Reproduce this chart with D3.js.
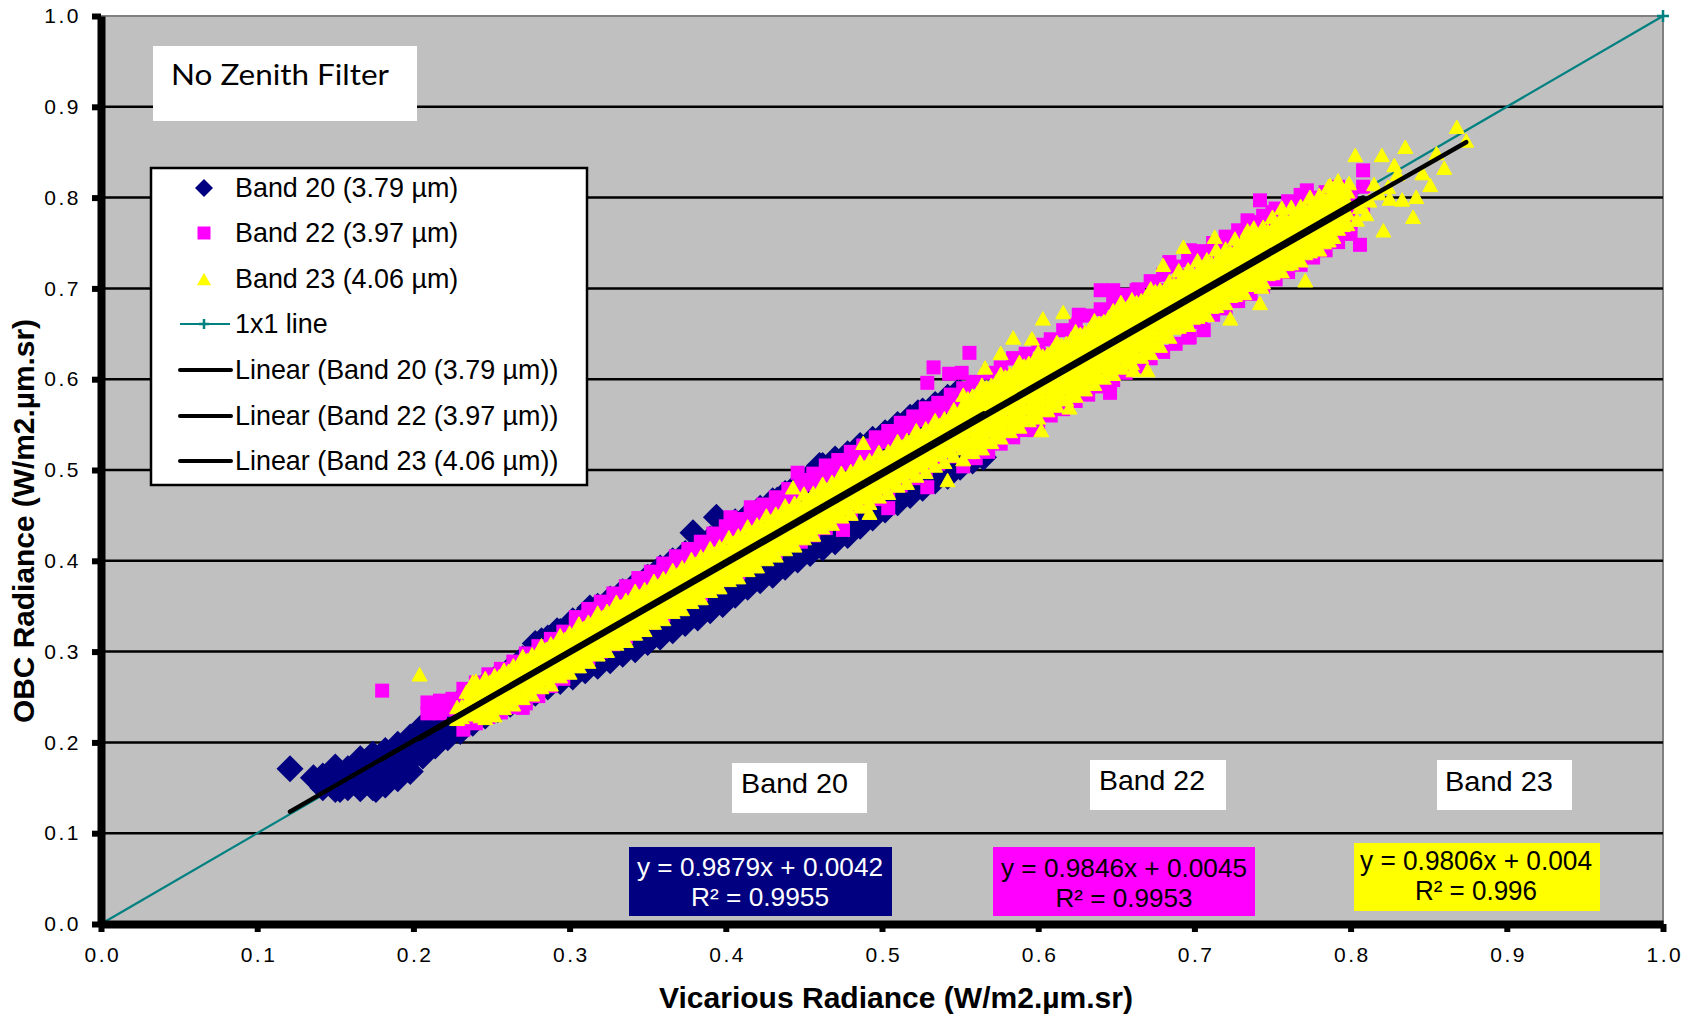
<!DOCTYPE html>
<html>
<head>
<meta charset="utf-8">
<script src="https://cdn.jsdelivr.net/npm/d3@7"></script>
<style>
  body { margin: 0; background: #fff; }
  svg { display: block; }
  text { font-family: "Liberation Sans", Arial, sans-serif; }
</style>
</head>
<body>
<svg id="chart" width="1697" height="1017"></svg>
<script>
// ---- Data ---------------------------------------------------------------
// Scatter points are stored column-wise: [x, y1, y2, ...] share one x value.
const band20Cols = [
  [0.142, 0.150, 0.163],
  [0.150, 0.148, 0.160, 0.173],
  [0.158, 0.150, 0.162, 0.171],
  [0.166, 0.149, 0.160, 0.172, 0.182],
  [0.174, 0.150, 0.163, 0.176, 0.187],
  [0.182, 0.153, 0.165, 0.178, 0.191],
  [0.190, 0.160, 0.172, 0.185, 0.198],
  [0.198, 0.168, 0.180, 0.193, 0.206],
  [0.206, 0.185, 0.197, 0.208, 0.218],
  [0.214, 0.196, 0.207, 0.218, 0.228],
  [0.222, 0.205, 0.216, 0.228, 0.238],
  [0.230, 0.212, 0.224, 0.236, 0.246],
  [0.238, 0.221, 0.234, 0.246, 0.256],
  [0.246, 0.229, 0.241, 0.253, 0.264],
  [0.254, 0.236, 0.248, 0.261, 0.273],
  [0.262, 0.242, 0.255, 0.268, 0.281],
  [0.270, 0.248, 0.262, 0.276, 0.292],
  [0.278, 0.254, 0.268, 0.284, 0.302, 0.309],
  [0.286, 0.261, 0.275, 0.292, 0.306, 0.315],
  [0.294, 0.267, 0.282, 0.300, 0.315, 0.322],
  [0.302, 0.272, 0.288, 0.306, 0.322, 0.334],
  [0.310, 0.279, 0.296, 0.314, 0.330, 0.342],
  [0.318, 0.284, 0.302, 0.322, 0.338, 0.350],
  [0.326, 0.290, 0.308, 0.330, 0.346, 0.358],
  [0.334, 0.297, 0.316, 0.338, 0.356, 0.366],
  [0.342, 0.302, 0.322, 0.344, 0.364, 0.374],
  [0.350, 0.310, 0.330, 0.352, 0.372, 0.382],
  [0.358, 0.316, 0.337, 0.360, 0.380, 0.392],
  [0.366, 0.323, 0.345, 0.368, 0.388, 0.400],
  [0.374, 0.331, 0.352, 0.376, 0.397, 0.408],
  [0.382, 0.337, 0.359, 0.384, 0.405, 0.416],
  [0.390, 0.345, 0.366, 0.392, 0.414, 0.424],
  [0.398, 0.352, 0.374, 0.399, 0.420, 0.432],
  [0.406, 0.362, 0.382, 0.407, 0.428, 0.443],
  [0.414, 0.371, 0.391, 0.414, 0.436, 0.450],
  [0.422, 0.378, 0.398, 0.422, 0.444, 0.458],
  [0.430, 0.384, 0.406, 0.430, 0.452, 0.466],
  [0.438, 0.393, 0.414, 0.438, 0.460, 0.474],
  [0.446, 0.401, 0.421, 0.445, 0.468, 0.484],
  [0.454, 0.408, 0.429, 0.453, 0.476, 0.494],
  [0.462, 0.414, 0.436, 0.461, 0.484, 0.505],
  [0.470, 0.421, 0.444, 0.469, 0.492, 0.512],
  [0.478, 0.428, 0.452, 0.477, 0.500, 0.518],
  [0.486, 0.438, 0.460, 0.485, 0.508, 0.527],
  [0.494, 0.447, 0.469, 0.493, 0.516, 0.534],
  [0.502, 0.456, 0.477, 0.501, 0.524, 0.541],
  [0.510, 0.464, 0.485, 0.508, 0.532, 0.550],
  [0.518, 0.472, 0.493, 0.516, 0.540, 0.558],
  [0.526, 0.480, 0.501, 0.524, 0.548, 0.565],
  [0.534, 0.488, 0.509, 0.532, 0.556, 0.572],
  [0.542, 0.493, 0.516, 0.540, 0.563, 0.580],
  [0.550, 0.503, 0.524, 0.548, 0.571, 0.585],
  [0.558, 0.510, 0.533, 0.556, 0.575]
];
const band20Extra = [
  [0.121, 0.171], [0.136, 0.161], [0.153, 0.148], [0.176, 0.148],
  [0.282, 0.312], [0.292, 0.323], [0.313, 0.348], [0.350, 0.313],
  [0.356, 0.320], [0.379, 0.431], [0.394, 0.448], [0.433, 0.467],
  [0.460, 0.505], [0.523, 0.563], [0.548, 0.585], [0.562, 0.517],
  [0.565, 0.514], [0.531, 0.489]
];

const band22Cols = [
  [0.232, 0.214, 0.231, 0.247, 0.259],
  [0.240, 0.221, 0.239, 0.255, 0.266],
  [0.248, 0.228, 0.247, 0.263, 0.275],
  [0.256, 0.233, 0.254, 0.270, 0.281],
  [0.264, 0.239, 0.262, 0.278, 0.289],
  [0.272, 0.243, 0.271, 0.286, 0.298],
  [0.280, 0.251, 0.278, 0.294, 0.306],
  [0.288, 0.262, 0.286, 0.302, 0.314],
  [0.296, 0.270, 0.294, 0.310, 0.322],
  [0.304, 0.285, 0.296, 0.316, 0.331, 0.338],
  [0.312, 0.293, 0.304, 0.324, 0.339, 0.347],
  [0.320, 0.300, 0.312, 0.332, 0.348, 0.355],
  [0.328, 0.308, 0.319, 0.339, 0.355, 0.364],
  [0.336, 0.316, 0.327, 0.347, 0.363, 0.372],
  [0.344, 0.324, 0.335, 0.355, 0.371, 0.381],
  [0.352, 0.332, 0.343, 0.363, 0.380, 0.388],
  [0.360, 0.340, 0.351, 0.371, 0.387, 0.397],
  [0.368, 0.348, 0.359, 0.379, 0.395, 0.405],
  [0.376, 0.355, 0.366, 0.387, 0.403, 0.413],
  [0.384, 0.363, 0.375, 0.395, 0.411, 0.421],
  [0.392, 0.371, 0.382, 0.403, 0.419, 0.430],
  [0.400, 0.379, 0.390, 0.410, 0.427, 0.438],
  [0.408, 0.387, 0.398, 0.418, 0.435, 0.446],
  [0.416, 0.395, 0.406, 0.426, 0.443, 0.454],
  [0.424, 0.403, 0.414, 0.434, 0.451, 0.462],
  [0.432, 0.410, 0.422, 0.442, 0.459, 0.470],
  [0.440, 0.418, 0.430, 0.450, 0.467, 0.479],
  [0.448, 0.421, 0.434, 0.456, 0.476, 0.489],
  [0.456, 0.428, 0.441, 0.463, 0.484, 0.496],
  [0.464, 0.436, 0.449, 0.471, 0.492, 0.505],
  [0.472, 0.444, 0.457, 0.479, 0.499, 0.511],
  [0.480, 0.452, 0.465, 0.487, 0.507, 0.520],
  [0.488, 0.460, 0.473, 0.495, 0.515, 0.527],
  [0.496, 0.468, 0.481, 0.503, 0.523, 0.536],
  [0.504, 0.476, 0.489, 0.511, 0.531, 0.543],
  [0.512, 0.483, 0.497, 0.519, 0.539, 0.552],
  [0.520, 0.491, 0.505, 0.527, 0.547, 0.559],
  [0.528, 0.499, 0.512, 0.534, 0.555, 0.568],
  [0.536, 0.507, 0.520, 0.542, 0.562, 0.574],
  [0.544, 0.515, 0.528, 0.550, 0.570, 0.583],
  [0.552, 0.504, 0.526, 0.548, 0.572, 0.590],
  [0.560, 0.513, 0.534, 0.556, 0.580, 0.597],
  [0.568, 0.520, 0.542, 0.564, 0.588, 0.607],
  [0.576, 0.529, 0.550, 0.572, 0.596, 0.613],
  [0.584, 0.536, 0.558, 0.580, 0.604, 0.623],
  [0.592, 0.544, 0.565, 0.587, 0.611, 0.628],
  [0.600, 0.551, 0.573, 0.595, 0.619, 0.638],
  [0.608, 0.560, 0.581, 0.603, 0.627, 0.644],
  [0.616, 0.567, 0.589, 0.611, 0.635, 0.654],
  [0.624, 0.576, 0.597, 0.619, 0.643, 0.660],
  [0.632, 0.583, 0.605, 0.627, 0.651, 0.670],
  [0.640, 0.592, 0.613, 0.635, 0.659, 0.677],
  [0.648, 0.599, 0.621, 0.643, 0.667, 0.684],
  [0.656, 0.607, 0.628, 0.650, 0.674, 0.693],
  [0.664, 0.614, 0.636, 0.658, 0.682, 0.699],
  [0.672, 0.623, 0.644, 0.666, 0.690, 0.708],
  [0.680, 0.630, 0.652, 0.674, 0.698, 0.715],
  [0.688, 0.639, 0.660, 0.682, 0.706, 0.724],
  [0.696, 0.646, 0.668, 0.690, 0.714, 0.731],
  [0.704, 0.663, 0.686, 0.710, 0.730, 0.741],
  [0.712, 0.671, 0.694, 0.718, 0.738, 0.750],
  [0.720, 0.678, 0.701, 0.725, 0.745, 0.757],
  [0.728, 0.686, 0.709, 0.733, 0.753, 0.764],
  [0.736, 0.694, 0.717, 0.741, 0.761, 0.773],
  [0.744, 0.702, 0.725, 0.749, 0.769, 0.780],
  [0.752, 0.710, 0.733, 0.757, 0.777, 0.788],
  [0.760, 0.718, 0.741, 0.765, 0.785, 0.796],
  [0.768, 0.726, 0.749, 0.773, 0.793, 0.803],
  [0.776, 0.734, 0.757, 0.781, 0.800],
  [0.784, 0.742, 0.765, 0.788, 0.806],
  [0.792, 0.751, 0.772, 0.796, 0.812],
  [0.800, 0.760, 0.780, 0.803],
  [0.808, 0.790, 0.812]
];
const band22Extra = [
  [0.180, 0.257], [0.209, 0.232], [0.209, 0.244], [0.217, 0.232], [0.217, 0.246],
  [0.225, 0.236], [0.225, 0.248], [0.221, 0.240], [0.270, 0.238], [0.356, 0.387],
  [0.403, 0.448], [0.416, 0.459], [0.446, 0.497], [0.491, 0.520], [0.475, 0.434],
  [0.504, 0.458], [0.529, 0.481], [0.529, 0.596], [0.533, 0.613], [0.543, 0.606],
  [0.551, 0.607], [0.556, 0.629], [0.558, 0.597], [0.584, 0.623], [0.597, 0.544],
  [0.622, 0.588], [0.626, 0.671], [0.640, 0.698], [0.648, 0.698], [0.646, 0.585],
  [0.663, 0.698], [0.674, 0.707], [0.684, 0.729], [0.697, 0.739], [0.697, 0.646],
  [0.706, 0.654], [0.697, 0.742], [0.734, 0.775], [0.742, 0.797], [0.750, 0.784],
  [0.772, 0.808], [0.806, 0.748], [0.808, 0.830]
];

const band23Cols = [
  [0.228, 0.226, 0.239],
  [0.234, 0.233, 0.244, 0.256],
  [0.240, 0.231, 0.243, 0.256, 0.268],
  [0.246, 0.227, 0.238, 0.251, 0.262, 0.271],
  [0.252, 0.230, 0.241, 0.251, 0.263, 0.274],
  [0.258, 0.238, 0.249, 0.262, 0.272, 0.280],
  [0.264, 0.242, 0.253, 0.264, 0.275, 0.285],
  [0.270, 0.249, 0.262, 0.273, 0.286, 0.295],
  [0.276, 0.253, 0.264, 0.276, 0.287, 0.297],
  [0.282, 0.261, 0.274, 0.285, 0.297, 0.307],
  [0.288, 0.264, 0.276, 0.287, 0.299, 0.309],
  [0.294, 0.273, 0.285, 0.296, 0.308, 0.318],
  [0.300, 0.277, 0.288, 0.299, 0.310, 0.321],
  [0.306, 0.284, 0.297, 0.309, 0.320, 0.331],
  [0.312, 0.289, 0.300, 0.311, 0.322, 0.333],
  [0.318, 0.297, 0.308, 0.320, 0.332, 0.343],
  [0.324, 0.301, 0.311, 0.323, 0.334, 0.345],
  [0.330, 0.309, 0.321, 0.333, 0.344, 0.355],
  [0.336, 0.312, 0.324, 0.334, 0.346, 0.357],
  [0.342, 0.320, 0.332, 0.344, 0.356, 0.367],
  [0.348, 0.324, 0.335, 0.346, 0.357, 0.369],
  [0.354, 0.332, 0.344, 0.355, 0.367, 0.378],
  [0.360, 0.336, 0.346, 0.358, 0.369, 0.381],
  [0.366, 0.344, 0.356, 0.367, 0.379, 0.390],
  [0.372, 0.347, 0.359, 0.370, 0.381, 0.393],
  [0.378, 0.355, 0.368, 0.380, 0.391, 0.402],
  [0.384, 0.359, 0.371, 0.382, 0.393, 0.405],
  [0.390, 0.367, 0.379, 0.390, 0.402, 0.414],
  [0.396, 0.371, 0.381, 0.393, 0.404, 0.416],
  [0.402, 0.379, 0.391, 0.403, 0.414, 0.426],
  [0.408, 0.382, 0.393, 0.405, 0.416, 0.428],
  [0.414, 0.390, 0.402, 0.414, 0.426, 0.438],
  [0.420, 0.394, 0.406, 0.417, 0.428, 0.440],
  [0.426, 0.402, 0.415, 0.427, 0.438, 0.450],
  [0.432, 0.406, 0.417, 0.429, 0.440, 0.452],
  [0.438, 0.413, 0.426, 0.437, 0.449, 0.461],
  [0.444, 0.417, 0.428, 0.440, 0.452, 0.464],
  [0.450, 0.425, 0.438, 0.450, 0.462, 0.474],
  [0.456, 0.429, 0.440, 0.452, 0.463, 0.475],
  [0.462, 0.437, 0.450, 0.461, 0.473, 0.485],
  [0.468, 0.441, 0.452, 0.464, 0.475, 0.487],
  [0.474, 0.449, 0.462, 0.474, 0.486, 0.497],
  [0.480, 0.452, 0.464, 0.476, 0.487, 0.499],
  [0.486, 0.460, 0.473, 0.486, 0.498, 0.509],
  [0.492, 0.464, 0.476, 0.488, 0.499, 0.511],
  [0.498, 0.471, 0.484, 0.496, 0.508, 0.520],
  [0.504, 0.475, 0.487, 0.499, 0.510, 0.521],
  [0.510, 0.483, 0.496, 0.508, 0.520, 0.532],
  [0.516, 0.486, 0.498, 0.510, 0.522, 0.533],
  [0.522, 0.494, 0.507, 0.520, 0.532, 0.544],
  [0.528, 0.498, 0.510, 0.522, 0.534, 0.546],
  [0.534, 0.505, 0.518, 0.531, 0.543, 0.555],
  [0.540, 0.509, 0.521, 0.534, 0.546, 0.557],
  [0.546, 0.516, 0.529, 0.542, 0.555, 0.567],
  [0.552, 0.512, 0.524, 0.536, 0.548, 0.560, 0.572, 0.583],
  [0.558, 0.520, 0.532, 0.545, 0.557, 0.569, 0.582],
  [0.564, 0.524, 0.535, 0.548, 0.560, 0.572, 0.584, 0.594],
  [0.570, 0.531, 0.544, 0.556, 0.569, 0.581, 0.594],
  [0.576, 0.536, 0.548, 0.560, 0.572, 0.584, 0.596, 0.606],
  [0.582, 0.543, 0.556, 0.569, 0.581, 0.593, 0.606],
  [0.588, 0.548, 0.560, 0.572, 0.584, 0.596, 0.608, 0.619],
  [0.594, 0.555, 0.568, 0.581, 0.593, 0.605, 0.618],
  [0.600, 0.558, 0.570, 0.582, 0.594, 0.607, 0.619, 0.630],
  [0.606, 0.566, 0.579, 0.592, 0.604, 0.616, 0.628],
  [0.612, 0.571, 0.583, 0.595, 0.607, 0.619, 0.631, 0.641],
  [0.618, 0.578, 0.591, 0.604, 0.616, 0.628, 0.640],
  [0.624, 0.582, 0.594, 0.606, 0.618, 0.630, 0.642, 0.653],
  [0.630, 0.589, 0.602, 0.615, 0.628, 0.640, 0.652],
  [0.636, 0.595, 0.607, 0.619, 0.631, 0.643, 0.655, 0.665],
  [0.642, 0.602, 0.615, 0.628, 0.640, 0.652, 0.664],
  [0.648, 0.606, 0.618, 0.630, 0.642, 0.654, 0.666, 0.676],
  [0.654, 0.613, 0.626, 0.639, 0.651, 0.663, 0.675],
  [0.660, 0.618, 0.630, 0.642, 0.654, 0.666, 0.678, 0.688],
  [0.666, 0.625, 0.638, 0.651, 0.663, 0.675, 0.687],
  [0.672, 0.629, 0.641, 0.653, 0.665, 0.677, 0.689, 0.700],
  [0.678, 0.637, 0.650, 0.663, 0.675, 0.687, 0.699],
  [0.684, 0.647, 0.660, 0.672, 0.684, 0.696, 0.708],
  [0.690, 0.658, 0.670, 0.683, 0.695, 0.707, 0.720],
  [0.696, 0.660, 0.672, 0.684, 0.697, 0.709, 0.721],
  [0.702, 0.669, 0.682, 0.694, 0.706, 0.718, 0.731],
  [0.708, 0.671, 0.683, 0.696, 0.708, 0.720, 0.732],
  [0.714, 0.681, 0.693, 0.706, 0.718, 0.730, 0.743],
  [0.720, 0.684, 0.696, 0.708, 0.720, 0.732, 0.744],
  [0.726, 0.693, 0.706, 0.718, 0.730, 0.742, 0.755],
  [0.732, 0.695, 0.707, 0.720, 0.732, 0.744, 0.756],
  [0.738, 0.705, 0.718, 0.730, 0.742, 0.754, 0.767],
  [0.744, 0.707, 0.719, 0.731, 0.744, 0.756, 0.768],
  [0.750, 0.717, 0.729, 0.742, 0.754, 0.766, 0.779],
  [0.756, 0.719, 0.731, 0.743, 0.755, 0.767, 0.779],
  [0.762, 0.728, 0.741, 0.753, 0.765, 0.777, 0.790],
  [0.768, 0.731, 0.743, 0.755, 0.767, 0.779, 0.791],
  [0.774, 0.741, 0.753, 0.765, 0.777, 0.789, 0.801],
  [0.780, 0.743, 0.755, 0.767, 0.779, 0.791, 0.803],
  [0.786, 0.753, 0.765, 0.777, 0.789, 0.801, 0.813],
  [0.792, 0.766, 0.778, 0.790, 0.802, 0.813],
  [0.798, 0.771, 0.783, 0.795, 0.807]
];
// Dense core of Band 23 between the columns above
const band23Core = [
  [0.231, 0.228, 0.240],
  [0.237, 0.233, 0.245, 0.256],
  [0.243, 0.229, 0.239, 0.250, 0.261],
  [0.249, 0.234, 0.245, 0.256, 0.267],
  [0.255, 0.240, 0.251, 0.262, 0.273],
  [0.261, 0.246, 0.257, 0.268, 0.279],
  [0.267, 0.252, 0.263, 0.274, 0.285],
  [0.273, 0.258, 0.269, 0.280, 0.291],
  [0.279, 0.264, 0.275, 0.286, 0.297],
  [0.285, 0.270, 0.281, 0.292, 0.303],
  [0.291, 0.275, 0.286, 0.297, 0.308],
  [0.297, 0.281, 0.292, 0.303, 0.314],
  [0.303, 0.287, 0.298, 0.309, 0.320],
  [0.309, 0.293, 0.304, 0.315, 0.326],
  [0.315, 0.299, 0.310, 0.321, 0.332],
  [0.321, 0.305, 0.316, 0.327, 0.338],
  [0.327, 0.311, 0.322, 0.333, 0.344],
  [0.333, 0.317, 0.328, 0.339, 0.350],
  [0.339, 0.322, 0.333, 0.344, 0.355],
  [0.345, 0.328, 0.339, 0.350, 0.361],
  [0.351, 0.334, 0.345, 0.356, 0.367],
  [0.357, 0.340, 0.351, 0.362, 0.373],
  [0.363, 0.346, 0.357, 0.368, 0.379],
  [0.369, 0.352, 0.363, 0.374, 0.385],
  [0.375, 0.358, 0.369, 0.380, 0.391],
  [0.381, 0.364, 0.375, 0.386, 0.397],
  [0.387, 0.370, 0.381, 0.392, 0.403],
  [0.393, 0.375, 0.386, 0.397, 0.408],
  [0.399, 0.381, 0.392, 0.403, 0.414],
  [0.405, 0.387, 0.398, 0.409, 0.420],
  [0.411, 0.393, 0.404, 0.415, 0.426],
  [0.417, 0.399, 0.410, 0.421, 0.432],
  [0.423, 0.405, 0.416, 0.427, 0.438],
  [0.429, 0.411, 0.422, 0.433, 0.444],
  [0.435, 0.417, 0.428, 0.439, 0.450],
  [0.441, 0.422, 0.433, 0.444, 0.455],
  [0.447, 0.428, 0.439, 0.450, 0.461],
  [0.453, 0.434, 0.445, 0.456, 0.467],
  [0.459, 0.440, 0.451, 0.462, 0.473],
  [0.465, 0.446, 0.457, 0.468, 0.479],
  [0.471, 0.452, 0.463, 0.474, 0.485],
  [0.477, 0.458, 0.469, 0.480, 0.491],
  [0.483, 0.464, 0.475, 0.486, 0.497],
  [0.489, 0.470, 0.481, 0.492, 0.503],
  [0.495, 0.475, 0.486, 0.497, 0.508],
  [0.501, 0.481, 0.492, 0.503, 0.514],
  [0.507, 0.487, 0.498, 0.509, 0.520],
  [0.513, 0.493, 0.504, 0.515, 0.526],
  [0.519, 0.499, 0.510, 0.521, 0.532],
  [0.525, 0.505, 0.516, 0.527, 0.538],
  [0.531, 0.511, 0.522, 0.533, 0.544],
  [0.537, 0.517, 0.528, 0.539, 0.550],
  [0.543, 0.523, 0.534, 0.545, 0.556],
  [0.549, 0.528, 0.539, 0.550, 0.561],
  [0.555, 0.520, 0.532, 0.544, 0.556, 0.568, 0.579],
  [0.561, 0.526, 0.538, 0.550, 0.562, 0.574, 0.585],
  [0.567, 0.532, 0.544, 0.556, 0.568, 0.580, 0.591],
  [0.573, 0.538, 0.550, 0.562, 0.574, 0.586, 0.597],
  [0.579, 0.544, 0.556, 0.568, 0.580, 0.592, 0.603],
  [0.585, 0.550, 0.562, 0.574, 0.586, 0.598, 0.609],
  [0.591, 0.556, 0.568, 0.580, 0.592, 0.604, 0.615],
  [0.597, 0.561, 0.573, 0.585, 0.597, 0.609, 0.620],
  [0.603, 0.567, 0.579, 0.591, 0.603, 0.615, 0.626],
  [0.609, 0.573, 0.585, 0.597, 0.609, 0.621, 0.632],
  [0.615, 0.579, 0.591, 0.603, 0.615, 0.627, 0.638],
  [0.621, 0.585, 0.597, 0.609, 0.621, 0.633, 0.644],
  [0.627, 0.591, 0.603, 0.615, 0.627, 0.639, 0.650],
  [0.633, 0.597, 0.609, 0.621, 0.633, 0.645, 0.656],
  [0.639, 0.603, 0.615, 0.627, 0.639, 0.651, 0.662],
  [0.645, 0.609, 0.621, 0.633, 0.645, 0.657, 0.668],
  [0.651, 0.614, 0.626, 0.638, 0.650, 0.662, 0.673],
  [0.657, 0.620, 0.632, 0.644, 0.656, 0.668, 0.679],
  [0.663, 0.626, 0.638, 0.650, 0.662, 0.674, 0.685],
  [0.669, 0.632, 0.644, 0.656, 0.668, 0.680, 0.691],
  [0.675, 0.638, 0.650, 0.662, 0.674, 0.686, 0.697],
  [0.681, 0.651, 0.663, 0.675, 0.687, 0.699],
  [0.687, 0.657, 0.669, 0.681, 0.693, 0.705],
  [0.693, 0.663, 0.675, 0.687, 0.699, 0.711],
  [0.699, 0.668, 0.680, 0.692, 0.704, 0.716],
  [0.705, 0.674, 0.686, 0.698, 0.710, 0.722],
  [0.711, 0.680, 0.692, 0.704, 0.716, 0.728],
  [0.717, 0.686, 0.698, 0.710, 0.722, 0.734],
  [0.723, 0.692, 0.704, 0.716, 0.728, 0.740],
  [0.729, 0.698, 0.710, 0.722, 0.734, 0.746],
  [0.735, 0.704, 0.716, 0.728, 0.740, 0.752],
  [0.741, 0.710, 0.722, 0.734, 0.746, 0.758],
  [0.747, 0.716, 0.728, 0.740, 0.752, 0.764],
  [0.753, 0.721, 0.733, 0.745, 0.757, 0.769],
  [0.759, 0.727, 0.739, 0.751, 0.763, 0.775],
  [0.765, 0.733, 0.745, 0.757, 0.769, 0.781],
  [0.771, 0.739, 0.751, 0.763, 0.775, 0.787],
  [0.777, 0.745, 0.757, 0.769, 0.781, 0.793],
  [0.783, 0.751, 0.763, 0.775, 0.787, 0.799],
  [0.789, 0.757, 0.769, 0.781, 0.793, 0.805],
  [0.795, 0.770, 0.782, 0.794, 0.806]
];
const band23Extra = [
  [0.204, 0.275], [0.238, 0.267], [0.443, 0.481], [0.488, 0.530], [0.492, 0.453],
  [0.542, 0.489], [0.566, 0.613], [0.576, 0.629], [0.584, 0.646], [0.596, 0.645],
  [0.603, 0.667], [0.616, 0.674], [0.602, 0.544], [0.620, 0.569], [0.653, 0.685],
  [0.661, 0.610], [0.670, 0.610], [0.680, 0.726], [0.693, 0.746], [0.713, 0.757],
  [0.723, 0.667], [0.742, 0.684], [0.734, 0.764], [0.756, 0.789], [0.743, 0.702],
  [0.771, 0.709], [0.787, 0.814], [0.792, 0.819], [0.799, 0.816], [0.803, 0.847],
  [0.820, 0.847], [0.835, 0.856], [0.828, 0.836], [0.855, 0.849], [0.868, 0.878],
  [0.874, 0.863], [0.860, 0.833], [0.851, 0.814], [0.842, 0.801], [0.840, 0.779],
  [0.821, 0.764], [0.806, 0.790], [0.812, 0.797], [0.818, 0.805], [0.825, 0.799],
  [0.833, 0.798], [0.810, 0.782], [0.804, 0.776], [0.815, 0.815], [0.824, 0.812],
  [0.830, 0.826], [0.846, 0.827]
];

// Linear fits printed in the boxes (slope, intercept, R²)
const bandNames = ["Band 20", "Band 22", "Band 23"];
const bandWavelengths = ["3.79", "3.97", "4.06"];
const fitSlope = [0.9879, 0.9846, 0.9806];
const fitIntercept = [0.0042, 0.0045, 0.004];
const fitR2 = ["0.9955", "0.9953", "0.996"];

const axisTicks = [0.0, 0.1, 0.2, 0.3, 0.4, 0.5, 0.6, 0.7, 0.8, 0.9, 1.0];
const gridValues = [0.1, 0.2, 0.3, 0.4, 0.5, 0.6, 0.7, 0.8, 0.9];
const identityLine = [[0, 0], [1, 1]];

// ---- Layout -------------------------------------------------------------
const plot = { left: 101, right: 1663, top: 16, bottom: 924 };
const x = d3.scaleLinear().domain([0, 1]).range([plot.left, plot.right]);
const y = d3.scaleLinear().domain([0, 1]).range([plot.bottom, plot.top]);
const svg = d3.select("#chart");

const toPoints = (colSets, extra) =>
  colSets.flatMap(cols => cols.flatMap(([cx, ...ys]) => ys.map(v => ({ x: cx, y: v }))))
      .concat(extra.map(([a, b]) => ({ x: a, y: b })));
const series = [
  { pts: toPoints([band20Cols], band20Extra), color: "#000080", shape: "diamond" },
  { pts: toPoints([band22Cols], band22Extra), color: "#ff00ff", shape: "square" },
  { pts: toPoints([band23Cols, band23Core], band23Extra), color: "#ffff00", shape: "triangle" }
];

// Marker shapes (size = width squared)
const diamond = { draw(ctx, size) { const r = Math.sqrt(size) / 2;
  ctx.moveTo(0, -r); ctx.lineTo(r, 0); ctx.lineTo(0, r); ctx.lineTo(-r, 0); ctx.closePath(); } };
const square = { draw(ctx, size) { const r = Math.sqrt(size) / 2;
  ctx.rect(-r, -r, 2 * r, 2 * r); } };
const triangle = { draw(ctx, size) { const w = Math.sqrt(size), h = w * 0.9;
  ctx.moveTo(0, -h / 2); ctx.lineTo(w / 2, h / 2); ctx.lineTo(-w / 2, h / 2); ctx.closePath(); } };
const plus = { draw(ctx, size) { const r = Math.sqrt(size) / 2;
  ctx.moveTo(-r, 0); ctx.lineTo(r, 0); ctx.moveTo(0, -r); ctx.lineTo(0, r); } };
const shapes = { diamond: [diamond, 27 * 27], square: [square, 14 * 14], triangle: [triangle, 15 * 15] };
const legendShapes = { diamond: [diamond, 18 * 18], square: [square, 13 * 13], triangle: [triangle, 14 * 14] };

// Plot background and frame
svg.append("rect")
  .attr("x", plot.left).attr("y", plot.top)
  .attr("width", plot.right - plot.left).attr("height", plot.bottom - plot.top)
  .attr("fill", "#c0c0c0");
svg.append("path")
  .attr("d", `M${plot.left},${plot.top}H${plot.right}V${plot.bottom}`)
  .attr("fill", "none").attr("stroke", "#808080").attr("stroke-width", 2);

// Horizontal gridlines
svg.append("g").selectAll("line").data(gridValues).join("line")
  .attr("x1", plot.left).attr("x2", plot.right)
  .attr("y1", d => y(d)).attr("y2", d => y(d))
  .attr("stroke", "#000").attr("stroke-width", 2.5);

// 1x1 reference line
const line = d3.line().x(d => x(d[0])).y(d => y(d[1]));
svg.append("path").datum(identityLine)
  .attr("d", line).attr("fill", "none").attr("stroke", "#008080").attr("stroke-width", 2.2);
svg.append("g").selectAll("path").data(identityLine).join("path")
  .attr("transform", d => `translate(${x(d[0])},${y(d[1])})`)
  .attr("d", d3.symbol().type(plus).size(144))
  .attr("stroke", "#008080").attr("stroke-width", 2.5).attr("fill", "none");

// Scatter series
series.forEach(s => {
  const [type, size] = shapes[s.shape];
  const g = svg.append("g");
  g.selectAll("path").data(s.pts).join("path")
    .attr("transform", d => `translate(${x(d.x)},${y(d.y)})`)
    .attr("d", d3.symbol().type(type).size(size))
    .attr("fill", s.color);
  if (s.shape === "triangle") g.selectAll("path").attr("stroke", s.color).attr("stroke-width", 1);
});

// Trend lines over each series' x range
series.forEach((s, i) => {
  const [x0, x1] = d3.extent(s.pts, d => d.x);
  const ends = [x0, x1].map(v => [v, fitSlope[i] * v + fitIntercept[i]]);
  svg.append("path").datum(ends)
    .attr("d", line).attr("fill", "none")
    .attr("stroke", "#000").attr("stroke-width", 4.5).attr("stroke-linecap", "round");
});

// Axes
const fmt = d3.format(".1f");
const yAxis = svg.append("g").attr("transform", `translate(${plot.left},0)`)
  .call(d3.axisLeft(y).tickValues(axisTicks).tickFormat(fmt).tickSize(9).tickSizeOuter(0).tickPadding(11));
const xAxis = svg.append("g").attr("transform", `translate(0,${plot.bottom})`)
  .call(d3.axisBottom(x).tickValues(axisTicks).tickFormat(fmt).tickSize(8).tickSizeOuter(0).tickPadding(15));
[yAxis, xAxis].forEach(g => {
  g.select(".domain").attr("stroke", "#000").attr("stroke-width", 8);
  g.selectAll(".tick line").attr("stroke", "#000").attr("stroke-width", 6);
  g.selectAll(".tick text")
    .attr("fill", "#000")
    .style("font-family", '"Liberation Sans", Arial, sans-serif')
    .style("font-size", "21px").style("letter-spacing", "2.5px");
});
xAxis.selectAll(".tick text").attr("dx", 1.3);

// Axis titles
svg.append("text")
  .attr("x", 896).attr("y", 1008).attr("text-anchor", "middle")
  .attr("font-size", 29).attr("font-weight", "bold")
  .attr("textLength", 474).attr("lengthAdjust", "spacingAndGlyphs")
  .text("Vicarious Radiance (W/m2.\u00b5m.sr)");
svg.append("text")
  .attr("transform", "translate(34,521) rotate(-90)").attr("text-anchor", "middle")
  .attr("font-size", 29).attr("font-weight", "bold")
  .attr("textLength", 404).attr("lengthAdjust", "spacingAndGlyphs")
  .text("OBC Radiance (W/m2.\u00b5m.sr)");

// Title box
svg.append("rect").attr("x", 153).attr("y", 46).attr("width", 264).attr("height", 75).attr("fill", "#fff");
svg.append("text").attr("x", 171).attr("y", 85)
  .style("font-family", "Lato, 'Open Sans', sans-serif").attr("font-size", 29)
  .attr("textLength", 218).attr("lengthAdjust", "spacingAndGlyphs")
  .text("No Zenith Filter");

// Legend
const legend = svg.append("g");
legend.append("rect").attr("x", 151).attr("y", 168).attr("width", 436).attr("height", 317)
  .attr("fill", "#fff").attr("stroke", "#000").attr("stroke-width", 2.5);
const rowY = [188, 233, 279, 324, 370, 416, 461];
const legendRows = [
  ...series.map((s, i) => ({ kind: "marker", s, label: `${bandNames[i]} (${bandWavelengths[i]} \u00b5m)` })),
  { kind: "identity", label: "1x1 line" },
  ...bandNames.map((n, i) => ({ kind: "trend", label: `Linear (${n} (${bandWavelengths[i]} \u00b5m))` }))
];
legendRows.forEach((r, i) => {
  const cy = rowY[i];
  if (r.kind === "marker") {
    const [type, size] = legendShapes[r.s.shape];
    legend.append("path").attr("transform", `translate(204,${cy})`)
      .attr("d", d3.symbol().type(type).size(size)).attr("fill", r.s.color);
  } else if (r.kind === "identity") {
    legend.append("line").attr("x1", 180).attr("x2", 230).attr("y1", cy).attr("y2", cy)
      .attr("stroke", "#008080").attr("stroke-width", 2.2);
    legend.append("path").attr("transform", `translate(204,${cy})`)
      .attr("d", d3.symbol().type(plus).size(100))
      .attr("stroke", "#008080").attr("stroke-width", 2.5).attr("fill", "none");
  } else {
    legend.append("line").attr("x1", 180).attr("x2", 231).attr("y1", cy).attr("y2", cy)
      .attr("stroke", "#000").attr("stroke-width", 4).attr("stroke-linecap", "round");
  }
  legend.append("text").attr("x", 235).attr("y", cy + 9).attr("font-size", 26.9).text(r.label);
});

// Band name labels
const bandLabels = [
  { box: [732, 763, 135, 50], tx: 741, ty: 793, len: 107 },
  { box: [1090, 760, 136, 50], tx: 1099, ty: 790, len: 106 },
  { box: [1437, 760, 135, 50], tx: 1445, ty: 791, len: 108 }
];
bandLabels.forEach((b, i) => {
  svg.append("rect").attr("x", b.box[0]).attr("y", b.box[1]).attr("width", b.box[2]).attr("height", b.box[3]).attr("fill", "#fff");
  svg.append("text").attr("x", b.tx).attr("y", b.ty).attr("font-size", 28)
    .attr("textLength", b.len).attr("lengthAdjust", "spacingAndGlyphs").text(bandNames[i]);
});

// Equation boxes
const eqBoxes = [
  { box: [629, 847, 263, 69], cx: 760, y1: 876, y2: 906, l1: 246, l2: 138, fs: 26, ink: "#fff" },
  { box: [993, 847, 262, 69], cx: 1124, y1: 877, y2: 907, l1: 246, l2: 137, fs: 26, ink: "#000" },
  { box: [1354, 843, 246, 68], cx: 1476, y1: 870, y2: 900, l1: 232, l2: 122, fs: 27, ink: "#000" }
];
eqBoxes.forEach((b, i) => {
  svg.append("rect").attr("x", b.box[0]).attr("y", b.box[1]).attr("width", b.box[2]).attr("height", b.box[3])
    .attr("fill", series[i].color);
  svg.append("text").attr("x", b.cx).attr("y", b.y1).attr("text-anchor", "middle")
    .attr("font-size", b.fs).attr("fill", b.ink)
    .attr("textLength", b.l1).attr("lengthAdjust", "spacingAndGlyphs")
    .text(`y = ${fitSlope[i]}x + ${fitIntercept[i]}`);
  svg.append("text").attr("x", b.cx).attr("y", b.y2).attr("text-anchor", "middle")
    .attr("font-size", b.fs).attr("fill", b.ink)
    .attr("textLength", b.l2).attr("lengthAdjust", "spacingAndGlyphs")
    .text(`R\u00b2 = ${fitR2[i]}`);
});
</script>
</body>
</html>
